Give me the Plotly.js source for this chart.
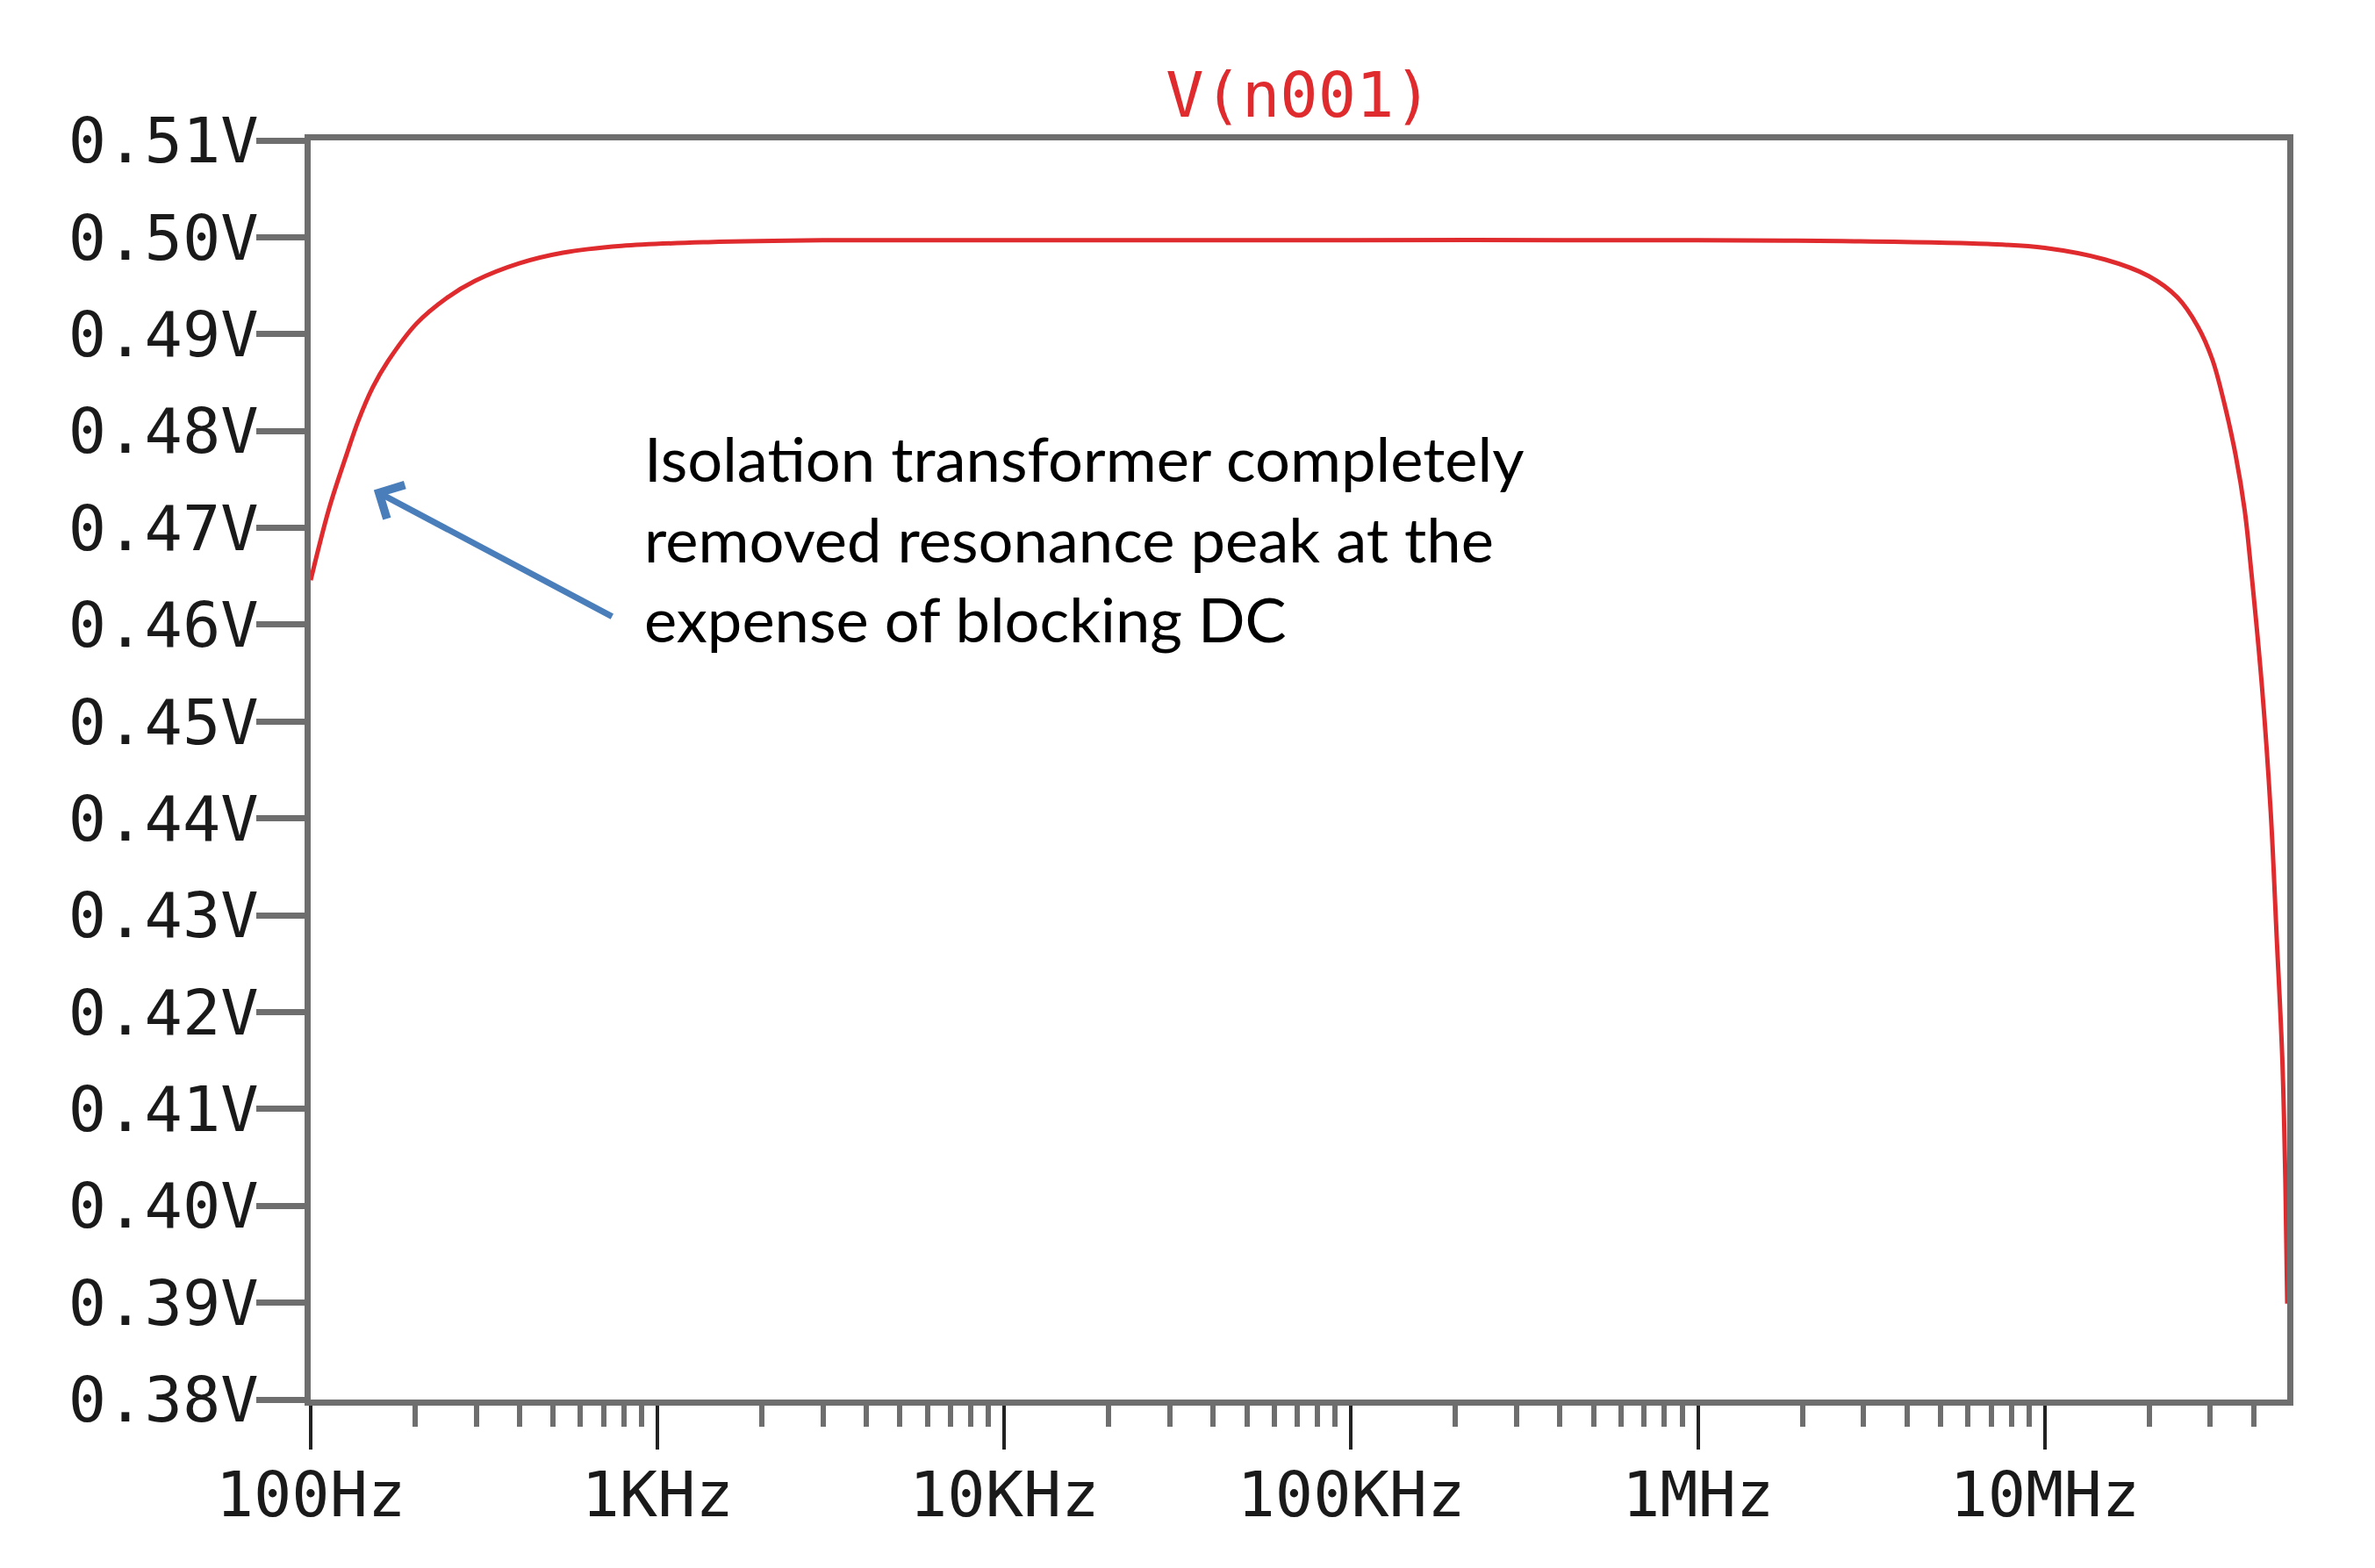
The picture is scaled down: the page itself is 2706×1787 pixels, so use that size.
<!DOCTYPE html>
<html>
<head>
<meta charset="utf-8">
<script src="https://cdn.plot.ly/plotly-3.0.1.min.js"></script>
<style>
  html, body { margin: 0; padding: 0; background: #ffffff; }
  #chart { width: 2706px; height: 1787px; }
</style>
</head>
<body>
<div id="chart"></div>
<script>
// ---- data ----
const freqHz = [100, 113, 127, 137, 151, 167, 202, 246, 298, 399, 534, 787, 1400, 3000,
  10000, 100000, 1000000, 2600000, 6840000, 10000000, 14900000, 19900000, 24100000,
  27600000, 30400000, 32900000, 35500000, 37700000, 39200000, 42300000, 44800000,
  46600000, 48400000, 49400000, 50000000];
const voltsN001 = [0.4646, 0.4720, 0.4776, 0.4810, 0.4845, 0.4872, 0.4911, 0.4937, 0.4955,
  0.4973, 0.4984, 0.4991, 0.4995, 0.4997, 0.4997, 0.4997, 0.4997, 0.4996, 0.4993, 0.4989,
  0.4977, 0.4960, 0.4938, 0.4908, 0.4874, 0.4829, 0.4775, 0.4718, 0.4662, 0.4535, 0.4407,
  0.4279, 0.4151, 0.4023, 0.3899];

const xTickVals = [100, 1000, 10000, 100000, 1000000, 10000000];
const xTickText = ['100Hz', '1KHz', '10KHz', '100KHz', '1MHz', '10MHz'];
const xMinorTickVals = [200, 300, 400, 500, 600, 700, 800, 900,
  2000, 3000, 4000, 5000, 6000, 7000, 8000, 9000,
  20000, 30000, 40000, 50000, 60000, 70000, 80000, 90000,
  200000, 300000, 400000, 500000, 600000, 700000, 800000, 900000,
  2000000, 3000000, 4000000, 5000000, 6000000, 7000000, 8000000, 9000000,
  20000000, 30000000, 40000000];
const yTickVals = [0.38, 0.39, 0.40, 0.41, 0.42, 0.43, 0.44, 0.45, 0.46, 0.47, 0.48, 0.49, 0.50, 0.51];
const yTickText = ['0.38V', '0.39V', '0.40V', '0.41V', '0.42V', '0.43V', '0.44V', '0.45V',
  '0.46V', '0.47V', '0.48V', '0.49V', '0.50V', '0.51V'];
const traceName = 'V(n001)';
const noteText = 'Isolation transformer completely<br>removed resonance peak at the<br>expense of blocking DC';

const mono = 'DejaVu Sans Mono, Liberation Mono, monospace';
const axisGray = '#6e6e6e';
const traceRed = '#df2a2e';

const trace = {
  x: freqHz,
  y: voltsN001,
  type: 'scatter',
  mode: 'lines',
  name: traceName,
  line: { color: traceRed, width: 5, shape: 'spline', smoothing: 1 },
  hoverinfo: 'skip'
};

const layout = {
  width: 2706,
  height: 1787,
  paper_bgcolor: '#ffffff',
  plot_bgcolor: '#ffffff',
  showlegend: false,
  margin: { l: 354, r: 100, t: 160, b: 192, pad: 0 },
  title: {
    text: traceName,
    font: { family: mono, size: 72, color: traceRed },
    x: 0.5, xref: 'paper', xanchor: 'center',
    y: 1 - 108 / 1787, yref: 'container', yanchor: 'middle'
  },
  xaxis: {
    type: 'log',
    range: [2, Math.log10(50000000)],
    showgrid: false,
    zeroline: false,
    showline: true,
    linecolor: axisGray,
    linewidth: 7,
    mirror: true,
    ticks: 'outside',
    tickmode: 'array',
    tickvals: xTickVals,
    ticktext: xTickText,
    ticklen: 50,
    tickwidth: 4,
    tickcolor: '#222222',
    ticklabelstandoff: -10,
    tickfont: { family: mono, size: 72, color: '#1a1a1a' },
    minor: {
      tickmode: 'array',
      tickvals: xMinorTickVals,
      ticks: 'outside',
      ticklen: 24,
      tickwidth: 6,
      tickcolor: axisGray,
      showgrid: false
    },
    fixedrange: true
  },
  yaxis: {
    range: [0.38, 0.51],
    showgrid: false,
    zeroline: false,
    showline: true,
    linecolor: axisGray,
    linewidth: 7,
    mirror: true,
    ticks: 'outside',
    tickmode: 'array',
    tickvals: yTickVals,
    ticktext: yTickText,
    ticklen: 55,
    tickwidth: 7,
    tickcolor: axisGray,
    ticklabelstandoff: -17,
    tickfont: { family: mono, size: 72, color: '#1a1a1a' },
    fixedrange: true
  },
  annotations: [
    {
      xref: 'paper', yref: 'paper',
      x: (732 - 354) / 2252, y: 0.684,
      xanchor: 'left', yanchor: 'middle', align: 'left',
      text: noteText,
      showarrow: false,
      font: { family: 'Lato, Open Sans, sans-serif', size: 70.5, color: '#000000' }
    },
    {
      xref: 'x', yref: 'y',
      x: Math.log10(152), y: 0.4739,
      text: '',
      showarrow: true,
      arrowhead: 4,
      arrowsize: 1.2,
      arrowwidth: 7,
      arrowcolor: '#4a7ebb',
      ax: 273, ay: 145,
      standoff: 0
    }
  ]
};

Plotly.newPlot('chart', [trace], layout, { displayModeBar: false, staticPlot: true });
</script>
</body>
</html>
